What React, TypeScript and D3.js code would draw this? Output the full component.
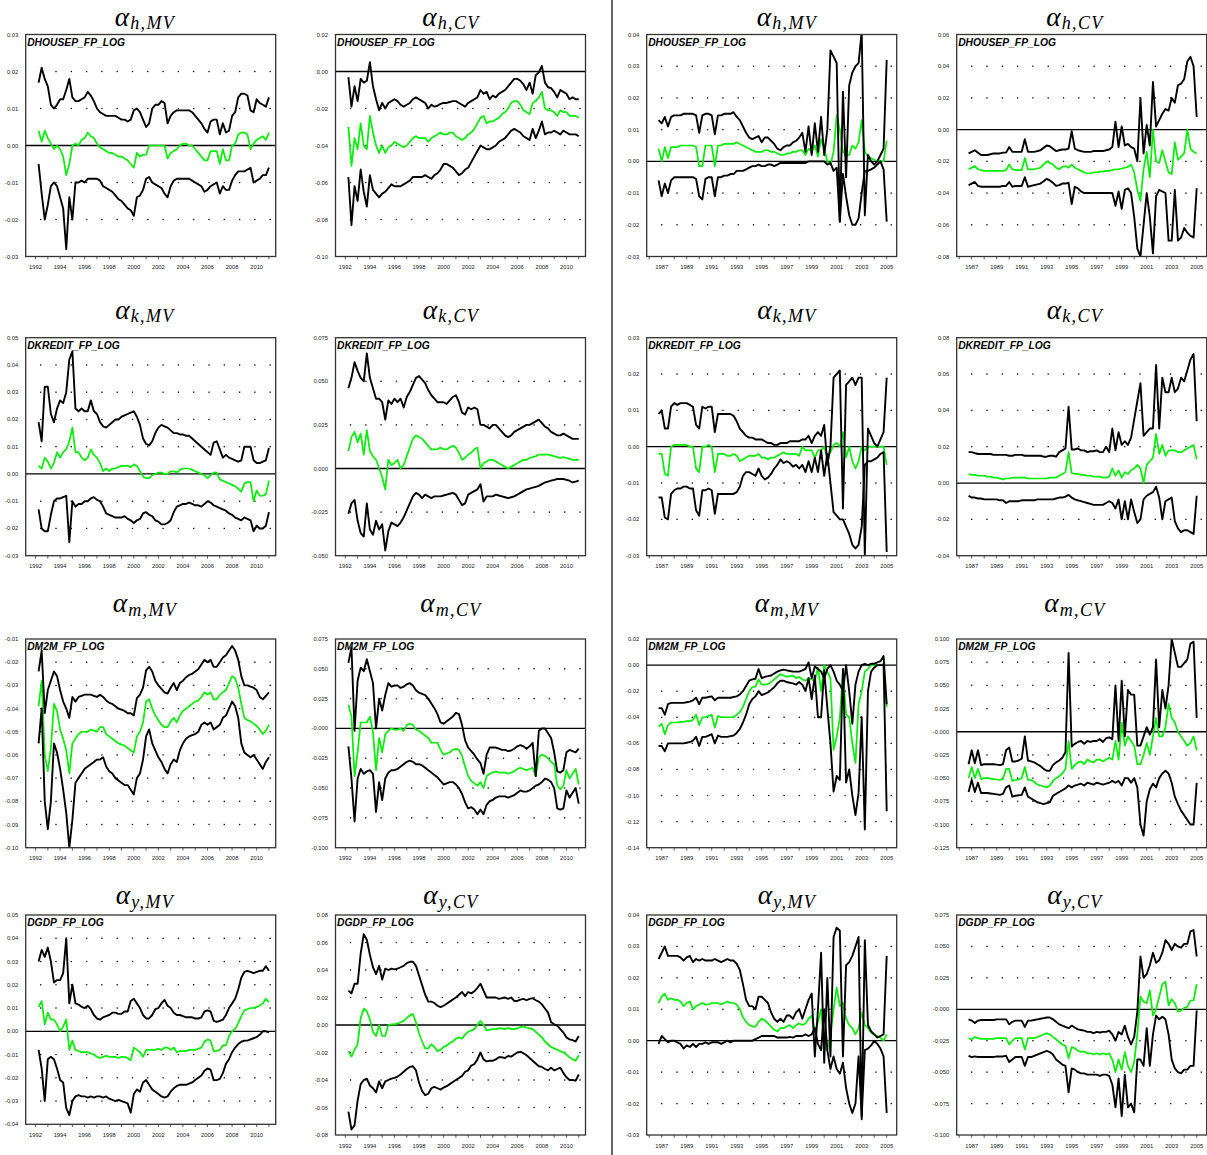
import React from 'react';
import * as d3 from 'd3';

// All series values are in units of 0.001 (per mille), sampled quarterly.
// Left panels start at 1992.25, right panels at 1986.75.
const LEFT_START = 1992.25;
const RIGHT_START = 1986.75;
const STEP = 0.25;

const yearsLeft = ['1992', '1994', '1996', '1998', '2000', '2002', '2004', '2006', '2008', '2010'];
const yearsRight = ['1987', '1989', '1991', '1993', '1995', '1997', '1999', '2001', '2003', '2005'];

// ---------- tick labels ----------
const yt_hMV_L = ['0.03', '0.02', '0.01', '0.00', '-0.01', '-0.02', '-0.03'];
const yt_hCV_L = ['0.02', '0.00', '-0.02', '-0.04', '-0.06', '-0.08', '-0.10'];
const yt_hMV_R = ['0.04', '0.03', '0.02', '0.01', '0.00', '-0.01', '-0.02', '-0.03'];
const yt_hCV_R = ['0.06', '0.04', '0.02', '0.00', '-0.02', '-0.04', '-0.06', '-0.08'];
const yt_kMV_L = ['0.05', '0.04', '0.03', '0.02', '0.01', '0.00', '-0.01', '-0.02', '-0.03'];
const yt_kCV_L = ['0.075', '0.050', '0.025', '0.000', '-0.025', '-0.050'];
const yt_kMV_R = ['0.03', '0.02', '0.01', '0.00', '-0.01', '-0.02', '-0.03'];
const yt_kCV_R = ['0.08', '0.06', '0.04', '0.02', '0.00', '-0.02', '-0.04'];
const yt_mMV_L = ['-0.01', '-0.02', '-0.03', '-0.04', '-0.05', '-0.06', '-0.07', '-0.08', '-0.09', '-0.10'];
const yt_mCV_L = ['0.075', '0.050', '0.025', '-0.000', '-0.025', '-0.050', '-0.075', '-0.100'];
const yt_mMV_R = ['0.02', '0.00', '-0.02', '-0.04', '-0.06', '-0.08', '-0.10', '-0.12', '-0.14'];
const yt_mCV_R = ['0.100', '0.075', '0.050', '0.025', '-0.000', '-0.025', '-0.050', '-0.075', '-0.100', '-0.125'];
const yt_yMV_L = ['0.05', '0.04', '0.03', '0.02', '0.01', '0.00', '-0.01', '-0.02', '-0.03', '-0.04'];
const yt_yCV_L = ['0.08', '0.06', '0.04', '0.02', '0.00', '-0.02', '-0.04', '-0.06', '-0.08'];
const yt_yMV_R = ['0.04', '0.03', '0.02', '0.01', '0.00', '-0.01', '-0.02', '-0.03'];
const yt_yCV_R = ['0.075', '0.050', '0.025', '-0.000', '-0.025', '-0.050', '-0.075', '-0.100'];

// ---------- alpha_h ----------
const hMV_L_up = [17,21,18, 16,11,10,11, 12.5,12.5,15,18, 13,12,12,12.5, 13,14.5,13.5,12, 10,9,8.5,8, 8,8,8,7.5, 7,7,6.5,7, 9.5,10,9,7, 5,6,10,11, 11,12,11.5,6, 8,9,9.5,9.5, 9.5,9.5,9.5,9, 8,7,6,4.5, 3.5,6.5,7,7, 3,6,3.5,4, 8,9,13,14, 14,13.5,9.5,9, 12.5,11.5,11,10.5, 13];
const hMV_L_mid = [4,1,4, 2,0.5,-1,0, -1,-3,-8,-5, 0,0.5,0,1.5, 2,3.5,2.5,2, 0.5,-0.5,-1,-1.5, -2,-2,-2.5,-3, -3,-3.5,-4,-5, -6,-2,-3,-2.5, -2.5,0,0,0, 0,0,0,-3.5, -2,-1.5,-1,0, 0.5,0.5,0,0, -1,-2,-3,-4, -4,-1.5,-1.5,-1.5, -5,-1,-4,-4, 0,0.5,3,3.5, 3.5,3,-1,0.5, 1.5,2,2.5,1.5, 3.5];
const hMV_L_lo = [-5,-13,-20, -16,-11,-10,-11, -14,-17,-28,-14, -20,-10,-10,-9.5, -10,-9,-9,-9, -9,-9.5,-11,-11.5, -12,-12.5,-13.5,-14.5, -15,-16,-17,-17.5, -19,-14,-13.5,-12, -9,-8.5,-10,-10.5, -11,-11.5,-13,-14, -11,-9.5,-9,-9, -9,-9,-9,-9.5, -10,-10.5,-11,-12.5, -12,-11,-10.5,-10, -13,-11,-12,-12, -9.5,-8,-7,-7, -7,-6.5,-6,-10, -9.5,-9,-8,-8, -6];

const hCV_L_up = [-3,-19,-8, -16,-4,-6,-5, 5,-8,-15,-21, -17,-20,-17,-16, -15,-16,-18,-19, -18,-17,-15,-14, -15,-16,-17,-20, -18,-19,-18.5,-17.5, -17,-17,-16.5,-16, -16,-17,-18,-19, -17,-16,-15,-14, -10,-12,-11,-15, -13,-14,-12,-11, -10,-8,-6,-4, -4,-5,-7,-10, -6,-12,-2,-0.5, 3,-6,-8.5,-9, -11,-14,-10,-11, -12,-15,-14,-15, -15];
const hCV_L_mid = [-30,-51,-36, -42,-28,-40,-42, -24,-33,-40,-44, -40,-44,-41,-40, -38,-39,-40,-41, -40,-38,-36,-35, -36,-36,-36,-38, -36,-35,-34,-33, -34,-34,-33,-33, -35,-36,-37,-36, -34,-33,-31,-28, -25,-24,-28,-27, -27,-26,-25,-23, -22,-20,-17,-16, -16,-18,-21,-22, -23,-17,-16,-14, -11,-20,-21,-21, -22,-24,-21,-22, -22,-24,-24,-24, -25];
const hCV_L_lo = [-57,-83,-62, -70,-53,-65,-73, -56,-64,-66,-68, -66,-65,-63,-61, -62,-62,-62,-61, -60,-59,-57,-57, -57,-57,-56,-57, -58,-56,-55,-53, -50,-50,-51,-52, -54,-56,-55,-53, -52,-49,-46,-43, -40,-41,-42,-42, -41,-40,-38,-37, -36,-34,-32,-31, -32,-33,-35,-36, -37,-31,-36,-32, -27,-34,-33,-33, -32,-33,-34,-32, -33,-34,-34,-34, -35];

const hMV_R_up = [13, 12,14,11,14, 14.5,14.5,14.5,15, 15,15,15,14.5, 9,14.5,15,15, 14.5,8.5,14.5,14.5, 15,15,15,15.5, 14,13,11,9, 7.5,7,7.5,8, 6,7.5,7.5,6.5, 5.5,4,3.5,4.5, 5,5,6,6.5, 7.5,9,3,11, 2,12,3,14, 2,10,35,33, 31,-19,22,-5, 24,28,30,31, 41,-17,2,0, -1,0,2,4, 32];
const hMV_R_mid = [4, 0,4.5,1,4.5, 4.5,4.5,5,5, 5,5,5,4.5, -1.5,-1.5,5,5, 5,-1.5,5,5, 5.5,5.5,5.5,5.5, 6,5.5,5,4.5, 4,3.5,3,3, 3,3.5,3.5,3, 3,2.5,2,2, 2.5,2.5,3,3, 3.5,3.5,2,4, 3,5,1.5,7, 4,0,-1,3, 14.5,10,3,2, 2,5,4,6, 13,3,1.5,1, 0.5,0,0,0, 6.5];
const hMV_R_lo = [-6, -11,-7,-10,-6, -5,-5,-5,-5, -5,-5,-5,-5.5, -11,-12,-5.5,-5, -5,-11,-5,-5, -4.5,-4.5,-4,-4, -3,-3,-3,-2.5, -2,-1.5,-1.5,-1, -1.5,-1.5,-1,-1, -1.5,-1,-0.5,-0.5, -0.5,-0.5,-0.5,-0.5, -0.5,-0.5,-0.5,0, 0,0,0,0, 0,-1,-0.5,-3, -2,-19,-4,-11, -17,-20,-20,-18, -10,-3,-3,-2.5, -2,-1,0,-2.5, -19];

const hCV_R_up = [-15, -14,-13,-14.5,-16, -16,-16,-15.5,-15, -15,-15,-14.5,-14.5, -11,-14,-14,-14, -14,-6,-14,-14, -14,-13.5,-13,-11.5, -10,-10.5,-12,-13.5, -13,-12.5,-12.5,-12, -1,-12,-13,-13.5, -14,-14,-14,-13.5, -13.5,-13.5,-13.5,-13, -12.5,-11,5,-11, 2,-10,-9,-11, -12,-20,20,-15, 3,-10,30,2, 6,10,13,12, 20,17,28,29, 32,43,46,40, 8];
const hCV_R_mid = [-25, -24,-23,-25,-25.5, -26,-26,-26,-26, -26,-26,-26,-25.5, -22,-25,-25.5,-25.5, -25.5,-18,-25,-25, -25,-24.5,-24,-22, -20,-21,-22,-24, -25,-23.5,-23,-24, -22,-24,-25,-26, -27,-27.5,-27.5,-27, -27,-26.5,-26.5,-26, -26,-25.5,-25,-25, -24.5,-24,-23.5,-22, -27,-38,-45,-25, -14,-30,0,-20, -21,-13,-20,-27, -28,-8,-19,-17, -15,0,-12,-14, -15];
const hCV_R_lo = [-35, -34,-33,-35.5,-36, -36,-36,-36,-36, -36,-36,-35.5,-35.5, -33,-36,-35.5,-35.5, -35.5,-30,-36,-35.5, -35,-34.5,-34,-32.5, -31,-32,-33.5,-35.5, -35,-34,-34,-33.5, -47,-36,-37,-39, -40,-40,-40,-40, -40,-40,-40,-40, -40,-40,-48,-39, -50,-38,-37,-40, -55,-75,-80,-60, -40,-55,-78,-42, -38,-39,-40,-70, -70,-38,-70,-68, -62,-65,-67,-68, -37];

// ---------- alpha_k ----------
const kMV_L_up = [19,12,32,32,22,19,24,27,26,30, 42,45,24,23,24,23,23,27,23,22, 19,17.5,17,18,19,20,20,21,21.5,22, 22.5,23,21,18,13,11,10.5,12,15,17, 18,17.5,17,16,15,15,14.5,14.5,14,14, 13,12,11,10,9,8,7,11.5,12,9, 6,7,6,5.5,5,4.5,5,10,10,10, 5,4,4,4.5,5,9.5];
const kMV_L_mid = [3,2,6,4.5,2,4,8,6,8,9, 12,17,8,8,6,5,6,9,7,6, 4,1,2,1,2,2,2.5,3,3,3, 2.5,3.5,3,1,-1,-1.5,-1.5,-0.5,0,0.5, 0.5,0,0,1,1,0.5,1.5,2,2,2, 1.5,1,0.5,0,-0.5,-1.5,-0.5,0.5,0.5,-2, -2.5,-3,-3.5,-4,-4.5,-5.5,-6.5,-3.5,-3,-3, -10,-6,-8,-8,-7.5,-2.5];
const kMV_L_lo = [-13,-20,-21,-21,-15,-10,-9,-9,-8.5,-8, -25,-10,-12,-11,-11,-10,-10,-9,-8.5,-9.5, -10,-12,-14.5,-15,-15.5,-16,-16,-16,-15.5,-16.5, -17,-18,-17,-16.5,-14.5,-14,-15,-15.5,-17,-17.5, -18.5,-18.5,-18,-17,-14,-12,-11.5,-11,-11,-10.5, -11,-11.5,-11.5,-12,-11,-10,-10.5,-11.5,-12,-12.5, -13,-13.5,-14.5,-15,-16,-16.5,-17,-16,-16.5,-17, -21,-19,-20,-20,-19,-14];

const kCV_L_up = [46,52,61,56,52,50,66,52,46,40, 40,38,28,39,37,40,38,40,35,41, 44,48,52,53,51,49,45,42,40,38, 38,38,37,39,41,42,38,32,31,35, 34,35,34,25,25,24,23,25,25,23, 21,19,18,19,21,22,23,24,25,25, 26,27,28,26,24,23,21,20,19,19, 20,19,18,17,17,17];
const kCV_L_mid = [10,18,21,15,20,8,22,10,7,5, 0,-5,-12,5,2,3,5,0,2,7, 12,17,19,18,17,15,13,11,11,11, 12,11,11,12,13,12,9,5,6,8, 9,11,12,0,3,4,5,5,4,3, 2,1,0,1,2,3,4,5,5,6, 6.5,7,8,8,8,8,7.5,7,6.5,6, 6.5,6,5.5,5,5,5];
const kCV_L_lo = [-26,-20,-18,-30,-37,-39,-20,-35,-38,-30, -35,-32,-47,-36,-31,-32,-33,-31,-28,-24, -20,-16,-14,-15,-17,-15,-16,-17,-16,-16, -16,-15.5,-15,-14.5,-14,-15,-18,-21,-20,-15, -14,-13,-12,-9,-19,-16,-16,-16,-15,-15.5, -16,-16.5,-17,-16.5,-16,-15,-14,-13,-12,-11.5, -11,-10.5,-10,-9,-8,-7.5,-7,-6.5,-6,-6, -6,-6.5,-7,-8,-7.5,-7];

const kMV_R_up = [9,10,5,5,11,12,11.5,12,12,12, 11.5,11,6,5,11,10.5,11,11,4,9, 9,9,9,9,8.5,7,5,4,3,2.5, 2.5,2,2,2,1.5,1,1,0.5,0.5,1, 1,1,1.5,1.5,1.5,1.5,2,2,3,1, 3,4,3,6,-5,0,19,20,21,-17, 17,18,19,17,19,19,-30,5,3,1, 0,2,4,19];
const kMV_R_mid = [-2,-2,-7.5,-8,0,0.5,0.5,0.5,0.5,0.5, 0,0,-6,-7,0,0,0.5,0,-7,-2, -2,-2,-2.5,-2.5,-2,-2.5,-4,-3.5,-3,-2.5, -2.5,-2.5,-2,-3,-3,-3.5,-3,-3,-2.5,-2, -1.5,-2,-2,-2,-2,-2.5,0,-1,-1,-1, -3,-1,-1,0,-3,-1.5,0.5,1,0,4, -3,0,-4,-6,-4,0,-1,0,0,0, 0,0,0,-5];
const kMV_R_lo = [-14,-14,-19.5,-20,-13,-12,-11.5,-11.5,-11,-11, -11.5,-11.5,-17.5,-19,-12,-12,-11.5,-12,-18.5,-13, -13,-13,-13,-13,-13,-12.5,-11,-8,-7,-7, -7.5,-8,-6,-8,-9,-8.5,-7.5,-6,-5,-3.5, -4.5,-4,-4.5,-5.5,-5,-6,-5,-7,-4,-7, -3,-7,-1,-8,-2,-10,-18,-19,-20,-20, -22,-24,-27,-28,-27,-22,-5,-4,-4,-3.5, -3,-2,-1.5,-29];

const kCV_R_up = [17,17,16.5,16,16,16,16,16,15.5,15.5, 15.5,15.5,15.5,15,15,15.5,15.5,15.5,15,15, 15,15,15,15,14.5,14.5,15,15,14.5,17, 18,19,42,18.5,18.5,19,18,18,17,17.5, 17.5,18,17,17,20,17,30,18,28,21, 23,21,25,35,45,55,26,28,30,30, 65,30,58,50,50,58,50,52,58,56, 62,68,71,34];
const kCV_R_mid = [5,4.5,4.5,4,4,4,3.5,3.5,3,3, 2.5,2,2.5,2.5,3,3,3,3,3,2.5, 2.5,2.5,2.5,2.5,2.5,2.5,3,3,3,4, 5,6,17,5.5,5,5,4.5,4.5,4,4, 3.5,3.5,3.5,3,3,3.5,8,4,7,3, 6,5,7,8,10,8,0,10,12,14, 27,16,21,15,18,18,18,17,17,18, 19,20,21,13];
const kCV_R_lo = [-7,-8,-8,-8.5,-8.5,-9,-9,-9,-9,-9, -9.5,-9.5,-11,-10,-10,-10,-10,-9.5,-9.5,-9.5, -9.5,-9.5,-9,-9,-9,-9,-9,-9,-8.5,-8, -8,-7.5,-6.5,-8,-9,-9.5,-10,-10.5,-11,-11.5, -12,-12,-12,-12,-11,-10,-11,-14,-9,-20, -10,-20,-9,-16,-22,-20,-9,-7,-6,-5, -2,-8,-20,-10,-9,-8,-21,-25,-27,-26, -26,-27,-28,-7];

// ---------- alpha_m ----------
const mMV_L_up = [-24,-15,-42,-32,-28,-24,-26,-32,-37,-40, -44,-35,-37,-35,-34.5,-34,-34,-34,-34.5,-35, -34,-35,-36.5,-37.5,-38,-39,-40,-40.5,-41,-42, -42,-43,-35.5,-34,-31,-23.5,-22,-24,-28,-30, -31.5,-33,-33.5,-31,-29,-32,-29,-28,-26.5,-25.5, -25,-24,-23,-21,-19,-20,-19,-22,-22,-20, -18,-17,-15,-13,-15,-19,-26,-30,-30,-30.5, -31,-32,-35,-36,-34.5,-33];
const mMV_L_mid = [-39,-28,-60,-67,-57,-38,-41,-49,-53,-58, -68,-55,-53,-51,-50,-50,-50,-49,-49.5,-50, -48,-48,-51,-52,-53,-54,-55,-55.5,-56,-57, -58,-59,-52,-50,-46,-37,-36,-40,-43,-45, -47,-48,-48,-45.5,-44,-46,-43,-41,-40,-39, -38,-37,-36.5,-35,-33,-34,-33,-36,-36,-34, -33,-32,-29,-26,-27,-31,-38,-44,-45,-45.5, -46.5,-47.5,-49,-51,-49.5,-47];
const mMV_L_lo = [-55,-40,-80,-92,-80,-55,-59,-66,-75,-85, -100,-88,-72,-70,-68,-66,-65,-64,-63,-62, -62,-61,-65,-67,-68,-70,-71,-72,-73,-73, -75,-77,-70,-68,-62,-52,-49,-55,-58,-61, -63,-66,-68,-64,-62,-63,-58,-55,-53,-52, -51.5,-51,-50,-47,-46,-47,-46,-49,-48,-47, -44,-43,-40,-37,-39,-44,-55,-59,-60,-61, -60,-62,-64,-66,-63,-61];

const mCV_L_up = [55,68,-2,40,51,48,58,48,38,0, 25,15,28,38,35,36,36,34,35,37, 38,36,32,30,29,28,25,21,17,12, 5,4,6,8,10,13,12,3,-10,-16, -19,-22,-26,-29,-38,-22,-16,-16,-16,-17, -18,-18,-19,-18.5,-17,-15,-14,-15,-17,-15, -12,-40,-2,0,0,-4,-8,-20,-36,-37, -35,-20,-18,-19,-20,-17];
const mCV_L_mid = [20,10,-40,-20,5,5,5,10,-3,-35, -8,-20,-5,-2,0,-1,-1,0,-2,3, 4,3,-1,-2,-4,-6,-8,-12,-12,-12, -18,-22,-21,-20,-18,-17,-18,-23,-32,-40, -44,-46,-48,-45,-50,-40,-38,-37,-36,-37, -37,-37,-38,-37,-36,-34,-33,-34,-35,-34, -33,-40,-24,-22,-23,-25,-28,-30,-48,-51, -48,-35,-42,-38,-34,-47];
const mCV_L_lo = [-15,-42,-78,-42,-34,-38,-36,-35,-38,-70, -45,-60,-42,-37,-35,-35,-34,-32,-30,-28, -27,-28,-30,-30,-31,-33,-35,-37,-39,-41, -44,-47,-46,-45,-45,-47,-50,-55,-62,-67, -66,-68,-72,-68,-72,-64,-61,-60,-58,-57, -57,-57,-58,-57,-56,-54,-52,-53,-53,-52, -50,-48,-47,-45,-42,-43,-45,-50,-67,-68, -67,-52,-58,-54,-50,-63];

const mMV_R_up = [-33,-33,-38,-30,-29,-29,-29,-29,-29,-28.5, -28,-27,-25,-30,-25,-25,-24.5,-24,-27,-25, -25,-25,-25,-25,-24.5,-24,-22.5,-20,-16,-12, -11,-10.5,-3,-10,-9,-8.5,-8,-6.5,-5,-4, -3.5,-4,-4.5,-5,-5,-5,-4,-3,2,-10, -1,-3,-5,-10,-3,0,-5,-12,-15,-20, 0,-20,-45,-15,-5,0,1,0,1,1, 2,3,7,-30];
const mMV_R_mid = [-47,-45,-53,-46,-44,-44,-44,-43.5,-43.5,-43, -43,-42,-38,-46,-40,-40,-39,-38,-48,-39, -40,-40,-40,-40,-40,-38,-36,-32,-26,-20, -17,-16.5,-11,-15,-15,-14.5,-13,-11,-9,-7, -8,-9,-8.5,-8,-10,-9,-11,-12,-10,-11, -12,-2,-20,0,-5,-10,-65,-55,-40,-5, -38,-40,-60,-75,-30,-20,-5,-3,0,0, 0,0,1,-32];
const mMV_R_lo = [-62,-62,-66,-60,-60,-60,-60,-60,-60,-59.5, -59,-58,-55,-62,-55,-55,-54,-53,-60,-54, -55,-55,-55,-54.5,-54,-52,-49,-44,-38,-30, -26,-24,-20,-23,-22,-21,-19,-17,-14,-12, -12,-13,-13.5,-14,-15,-13,-15,-20,-10,-26, -8,-40,-40,-4,-33,-60,-97,-85,-88,-3, -90,-80,-100,-115,-98,-40,-126,-20,-5,-2, 0,0,0,-112];

const mCV_R_up = [-35,-20,-34,-20,-36,-35,-35,-35,-35,-35.5, -36,-35,-20,-17,-32,-32,-31,-29,-5,-31, -32,-33,-35,-37,-40,-42,-42,-36,-33,-31, -28,-22,85,-16,-13,-11,-10,-13,-10,-11, -10,-10,-8,-11,-7,-6,-8,50,-10,55, -5,45,40,40,-15,-15,-5,5,-3,5, 78,5,45,25,50,100,85,70,70,74, 78,95,97,15];
const mCV_R_mid = [-50,-38,-50,-40,-51,-50,-50,-50.5,-51,-51.5, -52,-51,-40,-40,-53,-52,-51.5,-50,-38,-52, -52,-54,-57,-58,-59,-60,-58,-53,-50,-48, -45,-40,-10,-40,-36,-33,-32,-35,-30,-32, -33,-30,-30,-32,-30,-28,-30,-10,-30,10, -15,-5,-10,-15,-35,-35,-25,-12,-25,-5, 15,-5,-5,5,30,15,10,0,-5,-10, -15,-12,-5,-20];
const mCV_R_lo = [-65,-52,-65,-55,-66,-66,-66,-66.5,-67,-67.5, -68,-67,-60,-58,-70,-69,-68.5,-68,-60,-70, -72,-74,-76,-77,-78,-77,-76,-69,-67,-65, -63,-61,-58,-60,-58,-57,-56,-58,-55,-56, -57,-55,-56,-57,-56,-55,-53,-55,-53,-58, -50,-50,-55,-50,-60,-100,-112,-75,-62,-56, -60,-50,-45,-42,-45,-55,-70,-78,-85,-90, -95,-100,-100,-55];

// ---------- alpha_y ----------
const yMV_L_up = [30,35,32,36,30,21,22,22,25,40, 12,20,12,11.5,10.5,10,11,9.5,7,5.5, 5,6,6.5,7,8,8,7.5,7.5,8.5,8.5, 13,14,12,10,7,5.5,5.5,7,9.5,10, 12,13.5,11,10,8,7,7,6.5,6,6, 6,5.5,5.5,6,8.5,9,8.5,4.5,4,4.5, 5,7,10,12,14,18,23,25.5,26,25.5, 25,25.5,26,26,28,26];
const yMV_L_mid = [10.5,13,3,8,5,5,3,0,2,5, -8,-4,-8,-8.5,-9,-9,-9,-9.5,-10,-11, -11.5,-11,-10.5,-11,-11,-11,-11.5,-11,-11,-11.5, -12.5,-7,-8,-9,-11,-8,-8,-8,-8,-7.5, -8,-7,-7,-8,-7,-9,-8.5,-8.5,-8.5,-8, -8,-8,-7.5,-7,-4.5,-3.5,-4,-8.5,-8.5,-8, -6,-6,-2,0,1,3.5,6.5,9,9.5,10, 10,10.5,11,12,14,12.5];
const yMV_L_lo = [-8,-16,-30,-12,-11,-12,-16,-21,-22,-33, -36,-30,-28,-27.5,-28,-28,-28.5,-28,-28.5,-28, -28,-28.5,-28,-29,-29.5,-30,-29.5,-30,-30.5,-31, -35,-27,-25,-26,-22,-21,-23,-25,-26,-27, -28,-28.5,-28,-26,-24.5,-23.5,-23,-23,-23,-22.5, -22,-21,-20,-19,-17,-16,-16.5,-21,-21,-20.5, -18,-14,-12,-9,-7,-5.5,-4.5,-4,-4,-3.5, -3,-2.5,-1.5,0,0,-0.5];

const yCV_L_up = [25,23,30,30,52,66,62,51,42,37, 43,33,41,40,41,40.5,41,42,43,45, 46,46,43,36,29,22,17,17,16,14, 13,14,15.5,17,18.5,20,22,24,21,24, 23,24.5,27,30,25,20,20,20,20,19, 19.5,20,19,20,17.5,17.5,18.5,19,18,19, 19.5,18,17,15,12,9,2,0.5,-0.5,-3, -5.5,-9,-10.5,-11,-12,-8];
const yCV_L_mid = [-19,-23,-18,-14,5,12,10,4,-5,-8, 0,-8,-8,0,0.5,0.5,1,2,3,5, 7,8,2,-6,-12,-17,-17,-14,-16,-19, -18,-16,-15,-13,-12,-10,-9,-10,-7,-5, -4,-3,0,3,0,-4,-3.5,-3,-3,-2.5, -2.5,-3,-2,-3,-3,-2.5,-1.5,-1,-2,-2.5, -3,-5,-7,-9,-12,-14,-16,-17,-18,-19, -20,-21.5,-23.5,-25,-26,-22];
const yCV_L_lo = [-63,-76,-73,-55,-43,-40,-39,-44,-46,-49, -41,-46,-41,-40,-39,-38.5,-37.5,-36,-34,-32, -30.5,-30,-33,-42,-48,-51,-50,-46,-45,-46, -47,-45.5,-44.5,-43,-41.5,-40,-38.5,-37,-34,-33, -29.5,-28.5,-25,-20,-25,-26.5,-26,-26,-25,-23.5, -23.5,-24,-22.5,-23,-21.5,-20,-19.5,-20.5,-22,-24, -26,-28,-30,-30.5,-32,-33,-31,-33,-32,-31, -35,-38,-40,-40,-40.5,-36];

const yMV_R_up = [26,28,30,27,27,27,27,26.5,25.5,26.5, 27,25,26,25.5,26,25.5,25.5,25.5,26,25.5, 25,25.5,26,25.5,25.5,24.5,22.5,18,13,11, 11,10,14,14,13,12,9,7,6,7, 6,8,8,7,9,10,7,10,13,15, -5,10,28,-7,20,-5,33,36,35,-5, 24,25,27,30,33,-25,32,5,3,2, 1,1.5,2,27];
const yMV_R_mid = [12,14,15,13,13.5,13,13,12.5,11,12, 12.5,10,11,11.5,12,11.5,11.5,12,12,12, 11.5,12,12.5,12,12,11.5,10,7.5,6,5, 4.5,4.5,6,7,6.5,5.5,4.5,3.5,3,4, 4,4.5,5,4,5,5.5,5,5.5,7,8, 3,6,10,-2,-3,2,10,17,11,12, 7,5,4,2,4,9,5,4,2.5,2, 1.5,1,0,2];
const yMV_R_lo = [-1,1.5,0.5,-0.5,0,0,-0.5,-1,-2.5,-1.5, -2,-1,-2,-1,-1,-0.5,-1,-0.5,-0.5,-0.5, -1,-0.5,0,-0.5,0,0,0,0,0,0, 0,0.5,1,1.5,1.5,1.5,1.5,1.5,1,1, 1,1,1.2,1,1.5,1.5,1.5,2,1.5,2, 4,-1,-3,10,-3,-9,-5,-9,-10.5,-7, -15,-20,-23,-20,-5,-24,-3,-2.5,-1.5,0, -1,-2.5,-5,-23];

const yCV_R_up = [-8,-9,-11,-9,-8.5,-8.5,-8.5,-8.5,-8.5,-8, -8,-8,-8,-12,-10,-9,-9,-9,-14,-9, -9,-8.5,-8,-7.5,-7,-6.5,-6.5,-8,-10,-12, -13,-14,-15,-13,-14.5,-16,-16.5,-17,-18,-18, -19,-18,-18.5,-18,-18,-17,-20,-25,-18,-20, -13,-22,-28,-22,-2,42,25,28,35,45, 37,39,45,55,52,47,52,50,49,52, 52,62,63,42];
const yCV_R_mid = [-23,-24,-22,-23,-23.5,-23.5,-23.5,-23.5,-23.5,-23, -23,-23,-23,-28,-25,-23,-23,-23,-32,-23, -23,-23,-22,-21,-20,-19,-20,-22,-24,-26, -28,-29,-39,-30,-31,-33,-34,-33.5,-35,-35, -36,-35,-36,-35,-36,-35,-40,-50,-40,-48, -34,-45,-50,-42,-20,10,6,5,15,-5, 0,10,20,22,3,8,5,-2,-1,1, 2,7,7,20];
const yCV_R_lo = [-37,-38,-37.5,-38,-38,-38,-38,-38,-38,-37.5, -37.5,-37.5,-37,-42,-40,-38,-38,-38,-45,-38, -38,-37,-36,-35,-34,-33,-34,-36,-40,-42, -44,-45,-66,-47,-48,-50,-51,-51,-52,-52, -52,-52,-53,-52,-52,-53,-60,-78,-55,-85, -52,-78,-75,-82,-40,-40,-45,-15,-45,-20, -5,-8,-6,-8,-20,-40,-47,-50,-51,-48, -48,-45,-45,-1];

// ---------- panel table built from the arrays ----------
const PANELS = [
  { col: 0, row: 0, sym: 'h', sub: 'MV', name: 'DHOUSEP_FP_LOG', yt: yt_hMV_L, up: hMV_L_up, mid: hMV_L_mid, lo: hMV_L_lo },
  { col: 1, row: 0, sym: 'h', sub: 'CV', name: 'DHOUSEP_FP_LOG', yt: yt_hCV_L, up: hCV_L_up, mid: hCV_L_mid, lo: hCV_L_lo },
  { col: 2, row: 0, sym: 'h', sub: 'MV', name: 'DHOUSEP_FP_LOG', yt: yt_hMV_R, up: hMV_R_up, mid: hMV_R_mid, lo: hMV_R_lo },
  { col: 3, row: 0, sym: 'h', sub: 'CV', name: 'DHOUSEP_FP_LOG', yt: yt_hCV_R, up: hCV_R_up, mid: hCV_R_mid, lo: hCV_R_lo },
  { col: 0, row: 1, sym: 'k', sub: 'MV', name: 'DKREDIT_FP_LOG', yt: yt_kMV_L, up: kMV_L_up, mid: kMV_L_mid, lo: kMV_L_lo },
  { col: 1, row: 1, sym: 'k', sub: 'CV', name: 'DKREDIT_FP_LOG', yt: yt_kCV_L, up: kCV_L_up, mid: kCV_L_mid, lo: kCV_L_lo },
  { col: 2, row: 1, sym: 'k', sub: 'MV', name: 'DKREDIT_FP_LOG', yt: yt_kMV_R, up: kMV_R_up, mid: kMV_R_mid, lo: kMV_R_lo },
  { col: 3, row: 1, sym: 'k', sub: 'CV', name: 'DKREDIT_FP_LOG', yt: yt_kCV_R, up: kCV_R_up, mid: kCV_R_mid, lo: kCV_R_lo },
  { col: 0, row: 2, sym: 'm', sub: 'MV', name: 'DM2M_FP_LOG', yt: yt_mMV_L, up: mMV_L_up, mid: mMV_L_mid, lo: mMV_L_lo },
  { col: 1, row: 2, sym: 'm', sub: 'CV', name: 'DM2M_FP_LOG', yt: yt_mCV_L, up: mCV_L_up, mid: mCV_L_mid, lo: mCV_L_lo },
  { col: 2, row: 2, sym: 'm', sub: 'MV', name: 'DM2M_FP_LOG', yt: yt_mMV_R, up: mMV_R_up, mid: mMV_R_mid, lo: mMV_R_lo },
  { col: 3, row: 2, sym: 'm', sub: 'CV', name: 'DM2M_FP_LOG', yt: yt_mCV_R, up: mCV_R_up, mid: mCV_R_mid, lo: mCV_R_lo },
  { col: 0, row: 3, sym: 'y', sub: 'MV', name: 'DGDP_FP_LOG', yt: yt_yMV_L, up: yMV_L_up, mid: yMV_L_mid, lo: yMV_L_lo },
  { col: 1, row: 3, sym: 'y', sub: 'CV', name: 'DGDP_FP_LOG', yt: yt_yCV_L, up: yCV_L_up, mid: yCV_L_mid, lo: yCV_L_lo },
  { col: 2, row: 3, sym: 'y', sub: 'MV', name: 'DGDP_FP_LOG', yt: yt_yMV_R, up: yMV_R_up, mid: yMV_R_mid, lo: yMV_R_lo },
  { col: 3, row: 3, sym: 'y', sub: 'CV', name: 'DGDP_FP_LOG', yt: yt_yCV_R, up: yCV_R_up, mid: yCV_R_mid, lo: yCV_R_lo },
];

// ---------- layout ----------
const W = 1207;
const H = 1155;
const PW = 250;
const COL_X = [25.7, 335.5, 646.7, 956.7];
const TITLE_CX = [145, 451, 787, 1075];
const ROW_Y = [34.5, 337.7, 639, 915];
const ROW_H = [222, 218, 208.7, 220];
const TITLE_BASE = [25.5, 318.5, 612, 904];
const X_LEFT: [number, number] = [1991.2, 2011.55];
const X_RIGHT: [number, number] = [1985.8, 2005.8];
const GREEN = '#00ee00';

function Panel({ p, idx }: { p: any; idx: number }) {
  const left = p.col < 2;
  const x0 = COL_X[p.col];
  const y0 = ROW_Y[p.row];
  const h = p.col === 0 && p.row === 3 ? 209.3 : ROW_H[p.row];
  const xs = d3.scaleLinear().domain(left ? X_LEFT : X_RIGHT).range([x0, x0 + PW]);
  const vals = p.yt.map((s: string) => parseFloat(s) * 1000);
  const ys = d3.scaleLinear().domain([d3.min(vals) as number, d3.max(vals) as number]).range([y0 + h, y0]);
  const t0 = left ? LEFT_START : RIGHT_START;
  const line = d3.line<number>().x((_, i) => xs(t0 + STEP * i)).y((d) => ys(d));
  const dom = ys.domain();
  const interior = vals.filter((v: number) => v > dom[0] + 1e-9 && v < dom[1] - 1e-9 && Math.abs(v) > 1e-9);
  const hasZero = dom[0] < 0 && dom[1] > 0;
  const dotsX = d3.range(16).map((i) => x0 + 15 + 15.3 * i);
  const xd = xs.domain();
  const yearTicks = d3.range(Math.ceil(xd[0]), Math.floor(xd[1]) + 1);
  const yearLabels = left ? yearsLeft : yearsRight;
  const clipId = `clip${idx}`;
  return (
    <g>
      <defs>
        <clipPath id={clipId}>
          <rect x={x0} y={y0} width={PW} height={h} />
        </clipPath>
      </defs>
      {/* title */}
      <text x={TITLE_CX[p.col]} y={TITLE_BASE[p.row]} textAnchor="middle" fontFamily="'Liberation Serif', serif" fontStyle="italic" fill="#000">
        <tspan fontSize={27.5}>α</tspan>
        <tspan fontSize={18} dy={3.5} dx={1} letterSpacing={1.4}>{`${p.sym},${p.sub}`}</tspan>
      </text>
      {/* dotted grid */}
      {interior.map((v: number) =>
        dotsX.map((dx, j) => (
          <rect key={`${v}-${j}`} x={dx - 0.65} y={ys(v) - 0.65} width={1.3} height={1.3} fill="#000" />
        ))
      )}
      {/* zero line */}
      {hasZero && <line x1={x0} x2={x0 + PW} y1={ys(0)} y2={ys(0)} stroke="#000" strokeWidth={1.3} />}
      {/* series */}
      <g clipPath={`url(#${clipId})`} fill="none" strokeLinejoin="round">
        <path d={line(p.mid) || ''} stroke={GREEN} strokeWidth={1.7} />
        <path d={line(p.up) || ''} stroke="#000" strokeWidth={1.9} />
        <path d={line(p.lo) || ''} stroke="#000" strokeWidth={1.9} />
      </g>
      {/* frame */}
      <rect x={x0} y={y0} width={PW} height={h} fill="none" stroke="#333" strokeWidth={1.3} />
      {/* panel name */}
      <text x={x0 + 1.5} y={y0 + 11} fontFamily="'Liberation Sans', Arial, sans-serif" fontWeight="bold" fontStyle="italic" fontSize={10.3} fill="#000">
        {p.name}
      </text>
      {/* y tick labels */}
      {p.yt.map((s: string, i: number) => (
        <text key={s + i} x={x0 - 7.5} y={ys(vals[i]) + 2} textAnchor="end" fontFamily="'Liberation Sans', Arial, sans-serif" fontSize={5.8} fill="#222">
          {s}
        </text>
      ))}
      {/* x ticks */}
      {yearTicks.map((yr) => (
        <line key={yr} x1={xs(yr)} x2={xs(yr)} y1={y0 + h} y2={y0 + h + 2.8} stroke="#333" strokeWidth={0.8} />
      ))}
      {yearLabels.map((s) => (
        <text key={s} x={xs(+s)} y={y0 + h + 12.6} textAnchor="middle" fontFamily="'Liberation Sans', Arial, sans-serif" fontSize={5.8} fill="#222">
          {s}
        </text>
      ))}
    </g>
  );
}

export default function App() {
  return (
    <svg width={W} height={H} viewBox={`0 0 ${W} ${H}`} style={{ position: 'absolute', left: 0, top: 0, background: '#fff' }}>
      <rect x={0} y={0} width={W} height={H} fill="#fff" />
      <line x1={612} x2={612} y1={0} y2={H} stroke="#555" strokeWidth={1.8} />
      {PANELS.map((p, i) => (
        <Panel key={i} p={p} idx={i} />
      ))}
    </svg>
  );
}
